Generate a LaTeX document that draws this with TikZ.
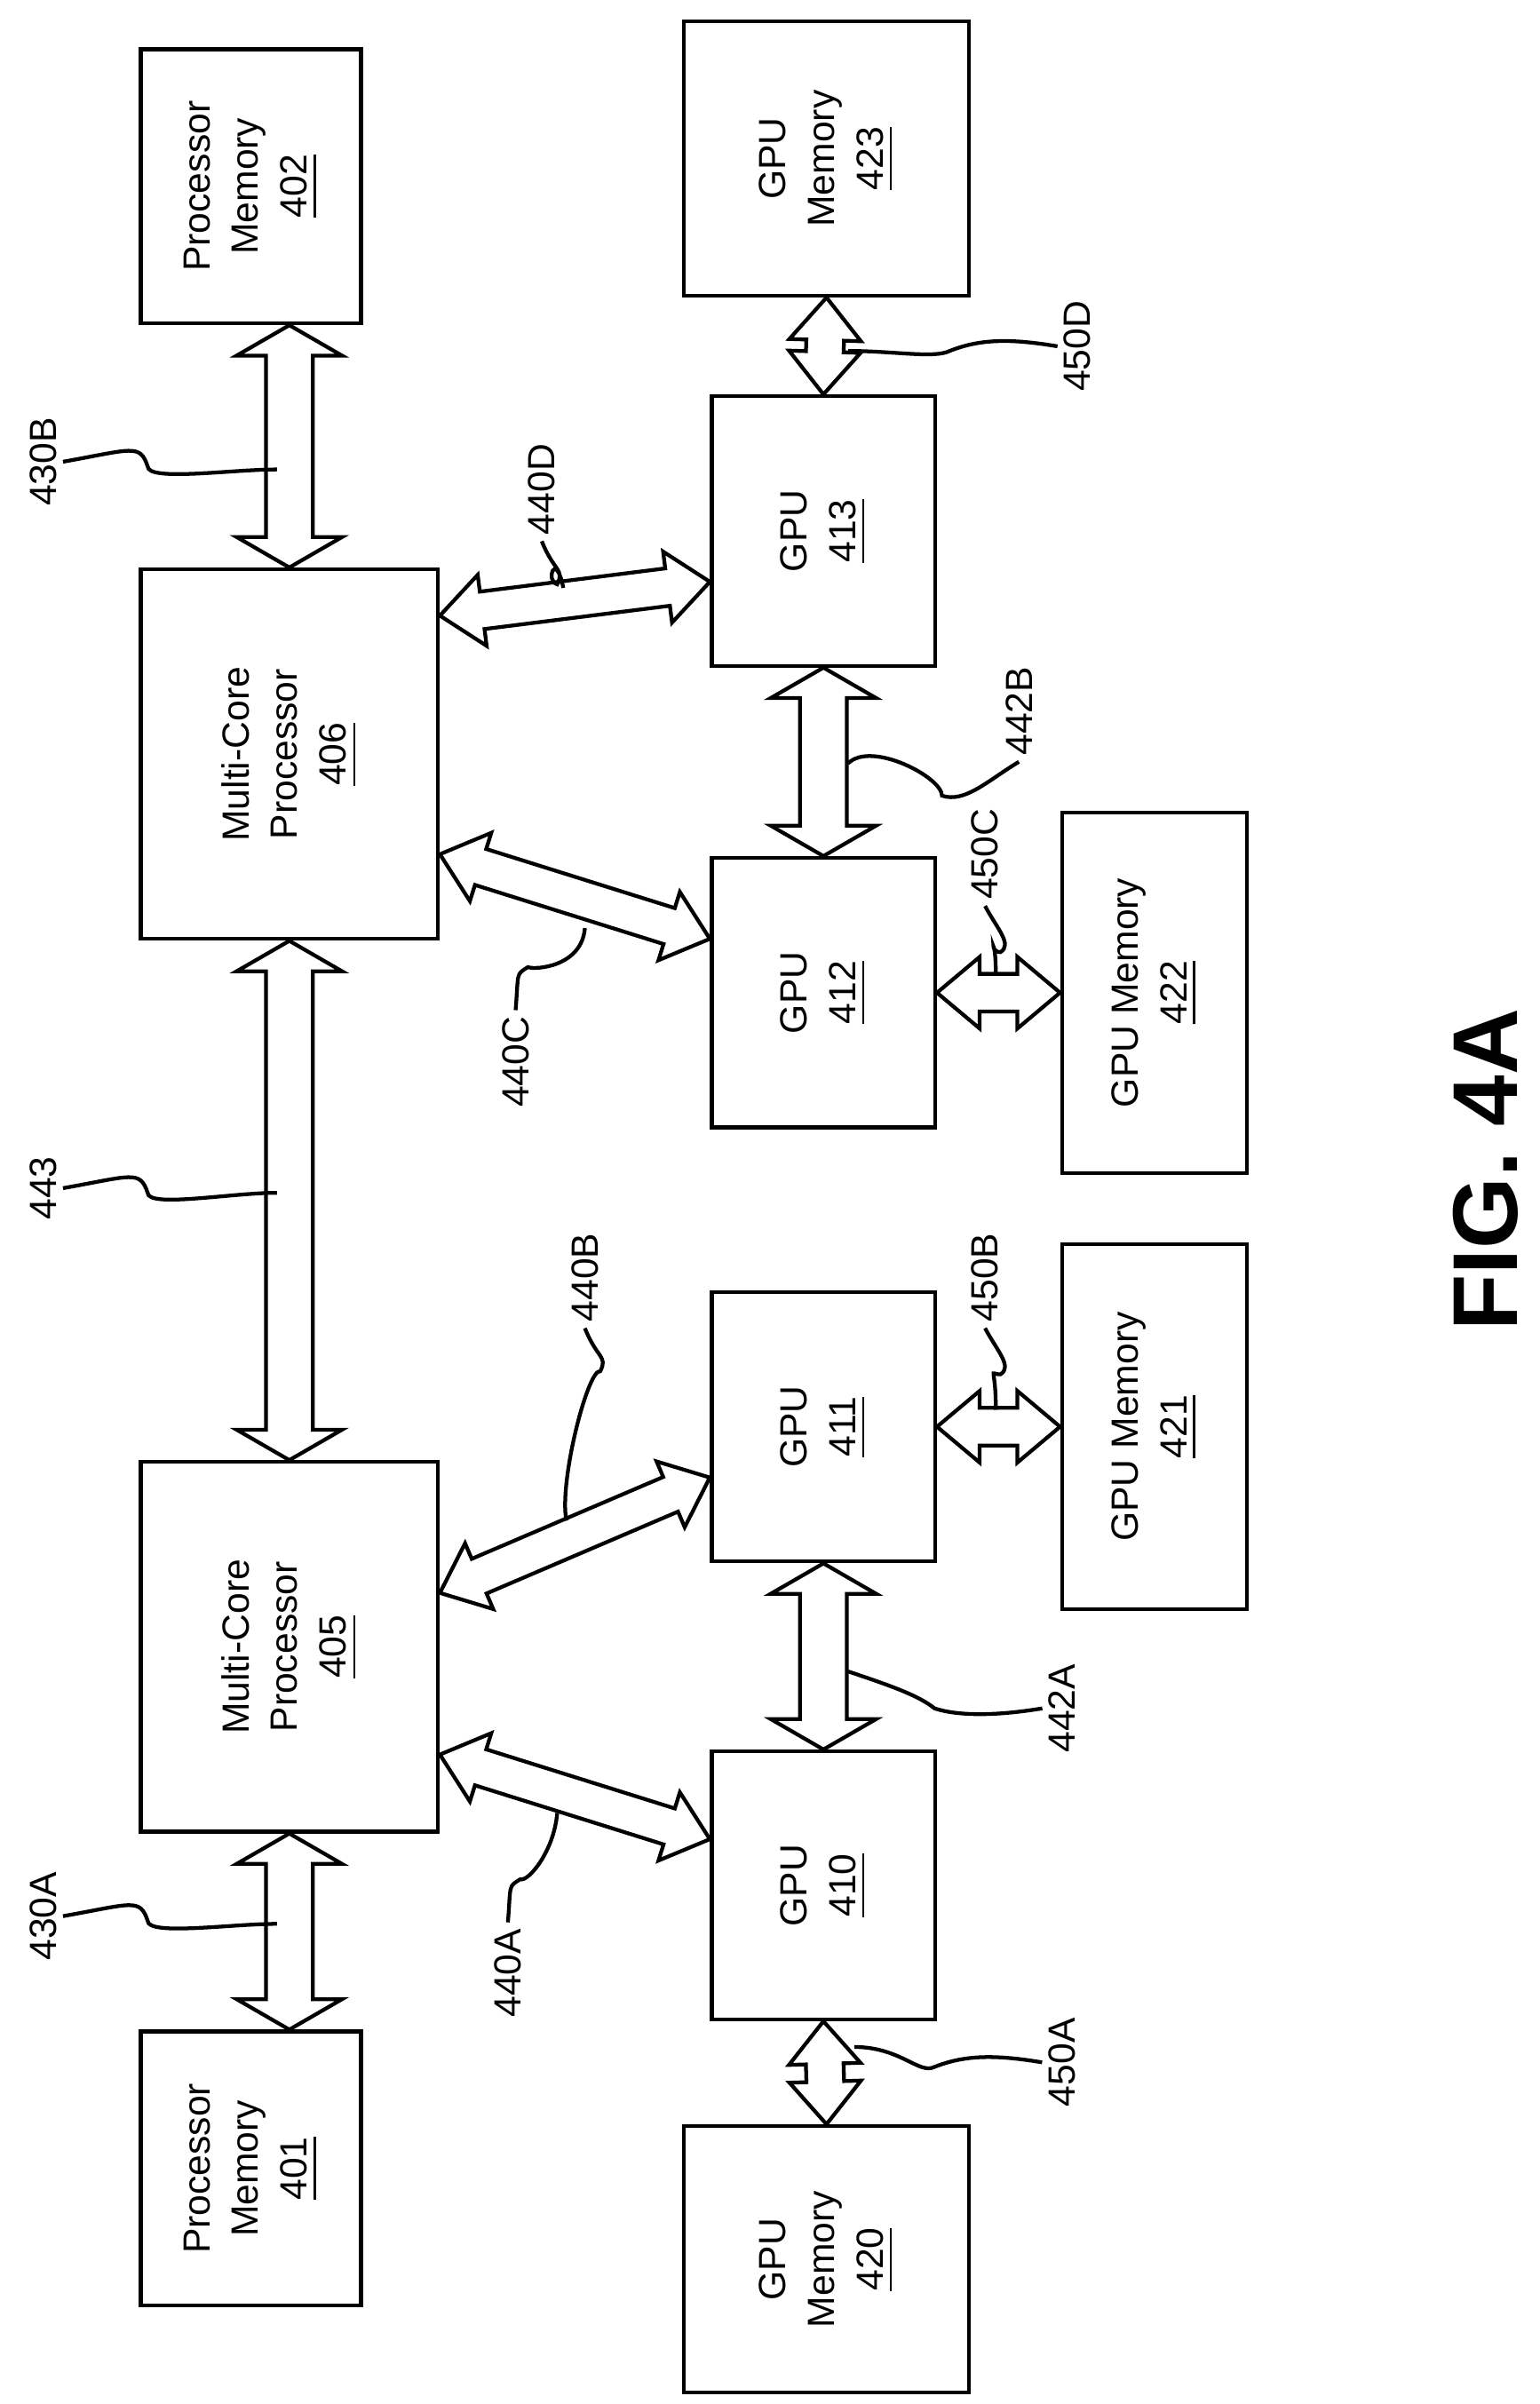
\documentclass[tikz,border=0pt]{standalone}
\usepackage{fontspec}
\setmainfont{Liberation Sans}
\usetikzlibrary{shapes.arrows,calc}
\tikzset{
  blk/.style={draw, line width=0.7pt, rotate=90, align=center, inner sep=0pt,
    font=\fontsize{7}{9}\selectfont},
  fat/.style={double arrow, draw, fill=white, line width=0.7pt, inner xsep=0pt,
    inner ysep=0.14cm, double arrow head extend=0.19cm, double arrow tip angle=120},
  thin/.style={inner ysep=0.11cm, double arrow head extend=0.11cm, double arrow tip angle=80},
  ref/.style={rotate=90, inner sep=1pt, font=\fontsize{7}{9}\selectfont},
  lead/.style={line width=0.7pt},
}
\newcommand\fatarrow[3][]{%
  \path let \p1=#2, \p2=#3, \n1={atan2(\y2-\y1,\x2-\x1)},
    \n2={veclen(\x2-\x1,\y2-\y1)} in
    node[fat, #1, rotate=\n1, minimum height=\n2] at ($(\p1)!0.5!(\p2)$) {};}
\begin{document}
\begin{tikzpicture}[x=0.01cm, y=-0.01cm]
\useasboundingbox (0,0) rectangle (1000,1562);

% Boxes
\node[blk, minimum width=1.78cm, minimum height=1.43cm] (p402) at (163,121) {Processor\\Memory\\\underline{402}};
\node[blk, minimum width=1.78cm, minimum height=1.85cm] (m423) at (537,103) {GPU\\Memory\\\underline{423}};
\node[blk, minimum width=1.75cm, minimum height=1.45cm] (g413) at (535,345) {GPU\\\underline{413}};
\node[blk, minimum width=2.40cm, minimum height=1.93cm] (mc406) at (188,490) {Multi-Core\\Processor\\\underline{406}};
\node[blk, minimum width=1.75cm, minimum height=1.45cm] (g412) at (535,645) {GPU\\\underline{412}};
\node[blk, minimum width=2.34cm, minimum height=1.20cm] (m422) at (750,645) {GPU Memory\\\underline{422}};
\node[blk, minimum width=1.75cm, minimum height=1.45cm] (g411) at (535,927) {GPU\\\underline{411}};
\node[blk, minimum width=2.37cm, minimum height=1.20cm] (m421) at (750,927) {GPU Memory\\\underline{421}};
\node[blk, minimum width=2.40cm, minimum height=1.93cm] (mc405) at (188,1070) {Multi-Core\\Processor\\\underline{405}};
\node[blk, minimum width=1.74cm, minimum height=1.45cm] (g410) at (535,1225) {GPU\\\underline{410}};
\node[blk, minimum width=1.78cm, minimum height=1.43cm] (p401) at (163,1409) {Processor\\Memory\\\underline{401}};
\node[blk, minimum width=1.73cm, minimum height=1.85cm] (m420) at (537,1468) {GPU\\Memory\\\underline{420}};

% Links
\fatarrow{(p402.west -| mc406.east)}{(mc406.east)}
\fatarrow{(mc406.west)}{(mc405.east)}
\fatarrow{(mc405.west)}{(p401.east -| mc405.west)}
\fatarrow[thin]{($(mc406.south)+(0,-90)$)}{($(g413.north)+(0,33)$)}
\fatarrow[thin]{($(mc406.south)+(0,65)$)}{($(g412.north)+(0,-35)$)}
\fatarrow[thin]{($(mc405.south)+(0,-35)$)}{($(g411.north)+(0,33)$)}
\fatarrow[thin]{($(mc405.south)+(0,70)$)}{($(g410.north)+(0,-30)$)}
\fatarrow[thin]{(m423.west)}{(g413.east)}
\fatarrow{(g413.west)}{(g412.east)}
\fatarrow{(g411.west)}{(g410.east)}
\fatarrow[thin]{(g410.west)}{(m420.east)}
\fatarrow[thin]{(g412.south)}{(m422.north)}
\fatarrow[thin]{(g411.south)}{(m421.north)}

% Reference labels
\node[ref] (l430B) at (28,300) {430B};
\node[ref] (l443) at (28,772) {443};
\node[ref] (l430A) at (28,1245) {430A};
\node[ref] (l440D) at (352,318) {440D};
\node[ref] (l440C) at (335,690) {440C};
\node[ref] (l442B) at (662,462) {442B};
\node[ref] (l450C) at (640,555) {450C};
\node[ref] (l450D) at (700,225) {450D};
\node[ref] (l440B) at (380,830) {440B};
\node[ref] (l450B) at (640,830) {450B};
\node[ref] (l442A) at (690,1110) {442A};
\node[ref] (l440A) at (330,1282) {440A};
\node[ref] (l450A) at (690,1340) {450A};

\coordinate (c430B) at (180,305);
\coordinate (c443) at (180,775);
\coordinate (c430A) at (180,1250);
\coordinate (c440D) at (366,382);
\coordinate (c440C) at (380,603);
\coordinate (c442B) at (551,496);
\coordinate (c450C) at (647,634);
\coordinate (c450D) at (551,228);
\coordinate (c440B) at (368,988);
\coordinate (c450B) at (647,916);
\coordinate (c442A) at (551,1086);
\coordinate (c440A) at (362,1178);
\coordinate (c450A) at (555,1330);

% Leaders
\draw[lead] (l430B.south) .. controls +(45,-8) and +(-5,-15) .. ++(55,3) .. controls +(0,10) and +(-30,0) .. (c430B);
\draw[lead] (l443.south) .. controls +(45,-8) and +(-5,-15) .. ++(55,3) .. controls +(0,10) and +(-30,0) .. (c443);
\draw[lead] (l430A.south) .. controls +(45,-8) and +(-5,-15) .. ++(55,3) .. controls +(0,10) and +(-30,0) .. (c430A);
\draw[lead] (l440D.west) .. controls +(8,20) and +(5,-10) .. ++(10,28) .. controls +(-8,-2) and +(-5,-25) .. (c440D);
\draw[lead] (l440B.west) .. controls +(8,20) and +(5,-10) .. ++(10,28) .. controls +(-8,-2) and +(-5,-25) .. (c440B);
\draw[lead] (l440C.east) .. controls +(2,-25) and +(-8,5) .. ++(8,-28) .. controls +(5,2) and +(-2,25) .. (c440C);
\draw[lead] (l440A.east) .. controls +(2,-25) and +(-8,5) .. ++(8,-28) .. controls +(5,2) and +(-2,25) .. (c440A);
\draw[lead] (l442B.west) .. controls +(-20,12) and +(15,5) .. ++(-50,22) .. controls +(0,-12) and +(15,-15) .. (c442B);
\draw[lead] (l450C.west) .. controls +(8,15) and +(8,-5) .. ++(10,30) .. controls +(-8,0) and +(0,-30) .. (c450C);
\draw[lead] (l450B.west) .. controls +(8,15) and +(8,-5) .. ++(10,30) .. controls +(-8,0) and +(0,-30) .. (c450B);
\draw[lead] (l450D.north) .. controls +(-30,-5) and +(20,-8) .. ++(-70,3) .. controls +(-10,5) and +(30,0) .. (c450D);
\draw[lead] (l442A.north) .. controls +(-30,5) and +(15,5) .. ++(-70,0) .. controls +(-10,-8) and +(30,10) .. (c442A);
\draw[lead] (l450A.north) .. controls +(-30,-5) and +(20,-8) .. ++(-70,3) .. controls +(-10,5) and +(30,0) .. (c450A);

% Figure label
\node[rotate=90, font=\fontsize{17}{20}\selectfont\bfseries] (fig) at (965,760) {FIG. 4A};
\end{tikzpicture}
\end{document}
